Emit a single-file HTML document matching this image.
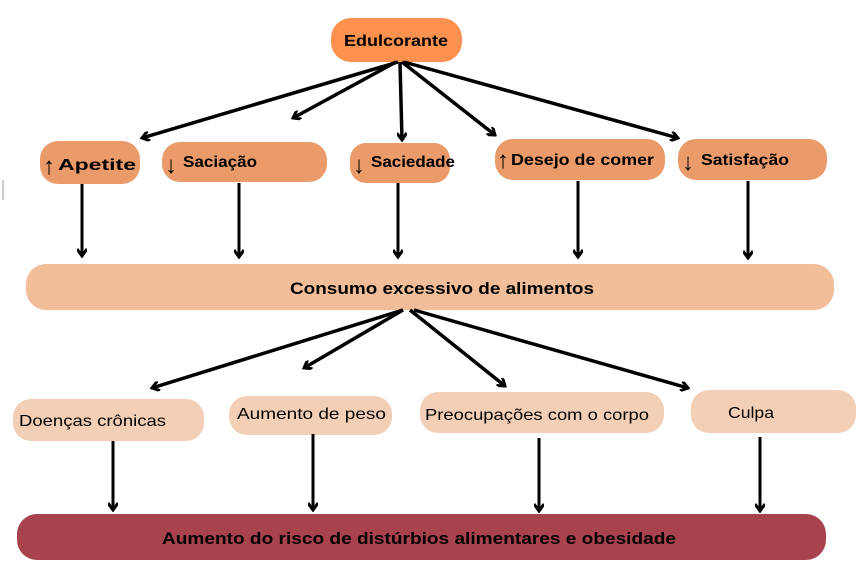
<!DOCTYPE html>
<html><head><meta charset="utf-8"><style>
html,body{margin:0;padding:0;background:#fff;width:858px;height:570px;overflow:hidden}
text{font-family:"Liberation Sans",sans-serif;fill:#000}
</style></head><body>
<svg width="858" height="570" viewBox="0 0 858 570" xmlns="http://www.w3.org/2000/svg">
<defs>
<marker id="a" markerWidth="10" markerHeight="10" refX="8" refY="5" orient="auto" markerUnits="userSpaceOnUse">
<path d="M1,0 L8,5 L1,10" fill="none" stroke="#000" stroke-width="3"/>
</marker>
</defs>
<rect x="331" y="18" width="131" height="44" rx="20" fill="#fe914d"/>
<text x="396" y="46" font-size="16" font-weight="bold" text-anchor="middle" textLength="104" lengthAdjust="spacingAndGlyphs">Edulcorante</text>
<g fill="#eb9b6a">
<rect x="40" y="141" width="100" height="43" rx="18"/>
<rect x="162" y="142" width="165" height="40" rx="18"/>
<rect x="350" y="143" width="100" height="40" rx="16"/>
<rect x="495" y="139" width="170" height="41" rx="18"/>
<rect x="678" y="139" width="149" height="41" rx="18"/>
</g>
<g font-size="24" font-weight="normal">
<text x="43" y="174">↑</text>
<text x="165" y="173">↓</text>
<text x="353" y="173">↓</text>
<text x="497" y="168">↑</text>
<text x="682" y="170">↓</text>
</g>
<g font-size="16" font-weight="bold">
<text x="58" y="170" textLength="78" lengthAdjust="spacingAndGlyphs">Apetite</text>
<text x="183" y="167" textLength="74" lengthAdjust="spacingAndGlyphs">Saciação</text>
<text x="371" y="167" textLength="84" lengthAdjust="spacingAndGlyphs">Saciedade</text>
<text x="511" y="165" textLength="143" lengthAdjust="spacingAndGlyphs">Desejo de comer</text>
<text x="701" y="165" textLength="88" lengthAdjust="spacingAndGlyphs">Satisfação</text>
</g>
<rect x="26" y="264" width="808" height="46" rx="20" fill="#f2be9a"/>
<text x="442" y="294" font-size="17" font-weight="bold" text-anchor="middle" textLength="304" lengthAdjust="spacingAndGlyphs">Consumo excessivo de alimentos</text>
<g fill="#f3cfb5">
<rect x="13" y="399" width="191" height="42" rx="18"/>
<rect x="229" y="396" width="163" height="39" rx="18"/>
<rect x="420" y="392" width="244" height="41" rx="18"/>
<rect x="691" y="390" width="165" height="43" rx="18"/>
</g>
<g font-size="16">
<text x="19" y="426" textLength="147" lengthAdjust="spacingAndGlyphs">Doenças crônicas</text>
<text x="237" y="419" textLength="149" lengthAdjust="spacingAndGlyphs">Aumento de peso</text>
<text x="425" y="420" textLength="224" lengthAdjust="spacingAndGlyphs">Preocupações com o corpo</text>
<text x="728" y="418" textLength="46" lengthAdjust="spacingAndGlyphs">Culpa</text>
</g>
<rect x="17" y="514" width="809" height="46" rx="20" fill="#a8434e"/>
<text x="419" y="544" font-size="17" font-weight="bold" text-anchor="middle" textLength="514" lengthAdjust="spacingAndGlyphs">Aumento do risco de distúrbios alimentares e obesidade</text>
<g stroke="#000" stroke-width="3.5" fill="none" marker-end="url(#a)">
<line x1="398" y1="62" x2="142" y2="138"/>
<line x1="396" y1="62" x2="293" y2="118"/>
<line x1="400" y1="62" x2="402" y2="140"/>
<line x1="402" y1="62" x2="495" y2="135"/>
<line x1="404" y1="62" x2="678" y2="138"/>
<line x1="403" y1="310" x2="152" y2="388"/>
<line x1="403" y1="310" x2="304" y2="368"/>
<line x1="410" y1="310" x2="505" y2="386"/>
<line x1="414" y1="310" x2="688" y2="388"/>
</g>
<g stroke="#000" stroke-width="3" fill="none" marker-end="url(#a)">
<line x1="82" y1="184" x2="82" y2="256"/>
<line x1="239" y1="183" x2="239" y2="257"/>
<line x1="398" y1="183" x2="398" y2="257"/>
<line x1="578" y1="181" x2="578" y2="257"/>
<line x1="748" y1="181" x2="748" y2="258"/>
<line x1="113" y1="441" x2="113" y2="510"/>
<line x1="313" y1="434" x2="313" y2="510"/>
<line x1="539" y1="438" x2="539" y2="511"/>
<line x1="760" y1="437" x2="760" y2="511"/>
</g>
<line x1="3" y1="180" x2="3" y2="200" stroke="#999" stroke-width="1"/>
</svg>
</body></html>
